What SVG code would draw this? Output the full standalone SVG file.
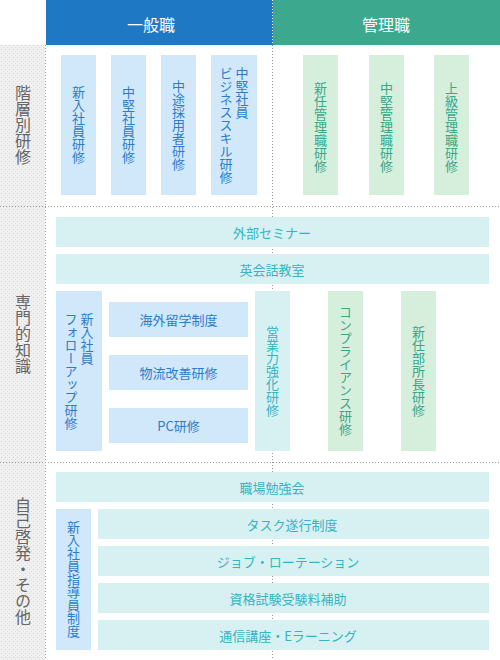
<svg xmlns="http://www.w3.org/2000/svg" width="500" height="660" viewBox="0 0 500 660">
<defs>
<pattern id="dots" width="4" height="4" patternUnits="userSpaceOnUse">
<rect width="4" height="4" fill="#f0f0f0"/>
<rect x="1" y="1" width="1" height="1" fill="#d4d4d4"/>
<rect x="3" y="3" width="1" height="1" fill="#dcdcdc"/>
</pattern>
<style>
text{font-family:"Noto Sans CJK JP","Noto Sans",sans-serif;}
.v{writing-mode:vertical-rl;text-anchor:middle;font-size:13px;}
.vs{writing-mode:vertical-rl;text-anchor:start;font-size:13px;}
.h{text-anchor:middle;dominant-baseline:central;font-size:13px;}
.blue{fill:#d1e8fb;}
.green{fill:#d6eedc;}
.cyan{fill:#d7f1f2;}
.tb{fill:#2b7ccb;}
.tg{fill:#3aa689;}
.tc{fill:#36b3c4;}
.lab{writing-mode:vertical-rl;text-anchor:middle;font-size:16px;fill:#666;}
.hd{text-anchor:middle;dominant-baseline:central;font-size:16px;fill:#fff;}
.dl{stroke:#9a9a9a;stroke-width:1;stroke-dasharray:1 2;fill:none;}
</style>
</defs>
<rect width="500" height="660" fill="#fff"/>
<g id="left-column">
<rect x="0" y="45" width="45" height="615" fill="url(#dots)"/>
<line class="dl" x1="45.5" y1="45" x2="45.5" y2="660"/>
</g>
<g id="connectors">
<line class="dl" x1="272.5" y1="45" x2="272.5" y2="660"/>
<line class="dl" x1="0" y1="206.5" x2="500" y2="206.5"/>
<line class="dl" x1="0" y1="462.5" x2="500" y2="462.5"/>
</g>
<g id="header-general">
<rect x="46" y="0" width="227" height="45" fill="#1f78c3"/>
<text class="hd" x="151" y="24">一般職</text>
</g>
<g id="header-manager">
<rect x="273" y="0" width="227" height="45" fill="#3ca98e"/>
<text class="hd" x="386" y="24">管理職</text>
</g>
<line x1="272.5" y1="0" x2="272.5" y2="45" stroke="#fff" stroke-width="1" stroke-dasharray="1 2"/>
<g id="label-kaiso"><text class="lab" x="23" y="125">階層別研修</text></g>
<g id="label-senmon"><text class="lab" x="23" y="334">専門的知識</text></g>
<g id="label-jiko"><text class="lab" x="23" y="561">自己啓発・その他</text></g>

<g id="n-shinnyu"><rect class="blue" x="61" y="55" width="35" height="140"/><text class="v tb" x="78.5" y="125">新入社員研修</text></g>
<g id="n-chuken"><rect class="blue" x="111" y="55" width="35" height="140"/><text class="v tb" x="128.5" y="125">中堅社員研修</text></g>
<g id="n-chuto"><rect class="blue" x="161" y="55" width="35" height="140"/><text class="v tb" x="178.5" y="125">中途採用者研修</text></g>
<g id="n-business"><rect class="blue" x="211" y="55" width="46" height="140"/><text class="vs tb" x="242" y="67">中堅社員</text><text class="v tb" x="226" y="125">ビジネススキル研修</text></g>
<g id="n-shinnin-kanri"><rect class="green" x="303" y="55" width="35" height="140"/><text class="v tg" x="320.5" y="127">新任管理職研修</text></g>
<g id="n-chuken-kanri"><rect class="green" x="369" y="55" width="35" height="140"/><text class="v tg" x="386.5" y="127">中堅管理職研修</text></g>
<g id="n-jokyu-kanri"><rect class="green" x="434" y="55" width="35" height="140"/><text class="v tg" x="451.5" y="127">上級管理職研修</text></g>

<g id="n-gaibu"><rect class="cyan" x="56" y="217" width="433" height="30"/><text class="h tc" x="272" y="232">外部セミナー</text></g>
<g id="n-eikaiwa"><rect class="cyan" x="56" y="254" width="433" height="30"/><text class="h tc" x="272" y="269">英会話教室</text></g>
<g id="n-followup"><rect class="blue" x="56" y="291" width="46" height="160"/><text class="vs tb" x="87" y="313">新入社員</text><text class="v tb" x="71" y="371">フォローアップ研修</text></g>
<g id="n-kaigai"><rect class="blue" x="109" y="302" width="139" height="35"/><text class="h tb" x="178.5" y="319.5">海外留学制度</text></g>
<g id="n-butsuryu"><rect class="blue" x="109" y="355" width="139" height="35"/><text class="h tb" x="178.5" y="372.5">物流改善研修</text></g>
<g id="n-pc"><rect class="blue" x="109" y="408" width="139" height="35"/><text class="h tb" x="178.5" y="425.5">PC研修</text></g>
<g id="n-eigyo"><rect class="cyan" x="255" y="291" width="35" height="160"/><text class="v tc" x="272.5" y="371">営業力強化研修</text></g>
<g id="n-compliance"><rect class="green" x="328" y="291" width="35" height="160"/><text class="v tg" x="345.5" y="371">コンプライアンス研修</text></g>
<g id="n-buchou"><rect class="green" x="401" y="291" width="35" height="160"/><text class="v tg" x="418.5" y="371">新任部所長研修</text></g>

<g id="n-shokuba"><rect class="cyan" x="56" y="472" width="433" height="30"/><text class="h tc" x="272" y="487">職場勉強会</text></g>
<g id="n-shidoin"><rect class="blue" x="56" y="509" width="35" height="141"/><text class="v tb" x="73.5" y="579.5">新入社員指導員制度</text></g>
<g id="n-task"><rect class="cyan" x="98" y="509" width="391" height="30"/><text class="h tc" x="292" y="524">タスク遂行制度</text></g>
<g id="n-job"><rect class="cyan" x="98" y="546" width="391" height="30"/><text class="h tc" x="288" y="561">ジョブ・ローテーション</text></g>
<g id="n-shikaku"><rect class="cyan" x="98" y="583" width="391" height="30"/><text class="h tc" x="288" y="598">資格試験受験料補助</text></g>
<g id="n-tsushin"><rect class="cyan" x="98" y="620" width="391" height="30"/><text class="h tc" x="288" y="635">通信講座・Eラーニング</text></g>
</svg>
